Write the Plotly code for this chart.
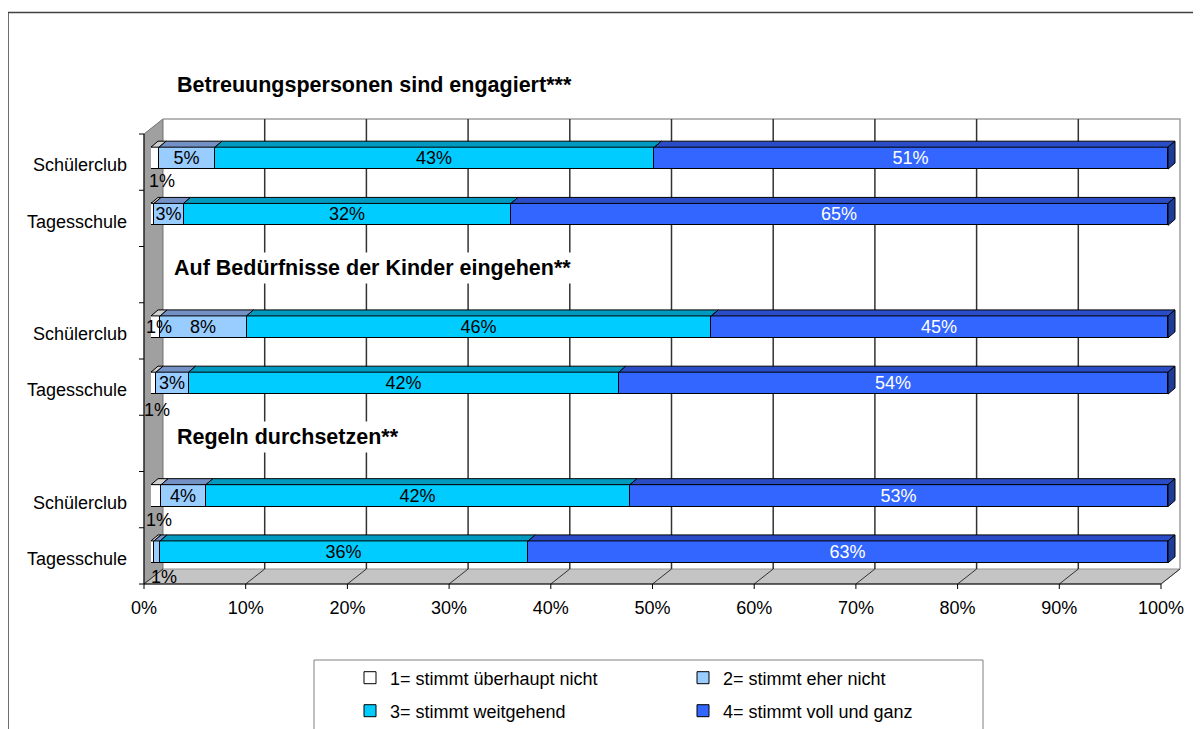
import plotly.graph_objects as go

W, H = 1201, 729
OFF = 8                    # page body margin of the viewer; figure is drawn at (OFF, OFF)
WF, HF = W - OFF, H - OFF

# ---------------- data ----------------
group_titles = ["Betreuungspersonen sind engagiert***",
                "Auf Bedürfnisse der Kinder eingehen**",
                "Regeln durchsetzen**"]
row_labels = ["Schülerclub", "Tagesschule", "Schülerclub", "Tagesschule", "Schülerclub", "Tagesschule"]
series_names = ["1= stimmt überhaupt nicht", "2= stimmt eher nicht",
                "3= stimmt weitgehend", "4= stimmt voll und ganz"]
v1 = [0.8, 0.3, 0.9, 0.5, 1.0, 0.3]
v2 = [5.5, 2.9, 8.5, 3.2, 4.4, 0.6]
v3 = [43.2, 32.2, 45.7, 42.3, 41.7, 36.2]
v4 = [50.5, 64.6, 44.9, 54.0, 52.9, 62.9]
lab1 = ["1%", "", "1%", "1%", "1%", "1%"]
lab2 = ["5%", "3%", "8%", "3%", "4%", ""]
lab3 = ["43%", "32%", "46%", "42%", "42%", "36%"]
lab4 = ["51%", "65%", "45%", "54%", "53%", "63%"]
x_tick_vals = [0, 10, 20, 30, 40, 50, 60, 70, 80, 90, 100]
x_tick_text = ["0%", "10%", "20%", "30%", "40%", "50%", "60%", "70%", "80%", "90%", "100%"]

# ---------------- style / geometry ----------------
FONT = "Liberation Sans, Arial, sans-serif"
colors = ["#FFFFFF", "#99CCFF", "#00CCFF", "#3366FF"]
top_colors = ["#D0D0D0", "#7391C4", "#0099BF", "#2A4DC7"]
side_color = "#1F3C99"
text_colors = ["black", "black", "black", "white"]

FX0, FX1 = 144, 1161      # front plane 0% / 100%
FY0, FY1 = 134, 584       # front plane top / bottom
DX, DY = 19, -15          # back plane offset
BX, BY = 7, -4            # bar plane offset
PXP = (FX1 - FX0) / 100.0 # pixels per percent
XMAX = 101.5
NSLOT = 8
SLOT = (FY1 - FY0) / NSLOT
BAR_W = 0.39
TOP_DX, TOP_DY = 7, 6     # bar top-face depth in px


def px(x):
    return (x - OFF) / WF


def py(y):
    return 1 - (y - OFF) / HF


def path(pts, close=False):
    s = "M " + " L ".join(f"{px(x):.5f},{py(y):.5f}" for x, y in pts)
    return s + (" Z" if close else "")


row_pos = []
for g in range(3):
    for m in range(2):
        row_pos.append(7 - 3 * g - m)

series = [v1, v2, v3, v4]
labels = [lab1, lab2, lab3, lab4]
# placement of the tiny first-segment labels: (x shift px, y shift px)
lab1_shift = {0: (7, -23), 2: (3, 0), 3: (3, -27), 4: (3, -24), 5: (11, -25)}

fig = go.Figure()

for s, (vals, labs) in enumerate(zip(series, labels)):
    txt = list(labs) if s > 0 else [""] * len(labs)
    fig.add_trace(go.Bar(
        x=vals, y=row_pos, orientation="h", width=BAR_W,
        name=series_names[s], legend=["legend", "legend2", "legend3", "legend4"][s],
        marker=dict(color=colors[s], line=dict(color="black", width=1)),
        text=txt, textposition="inside", insidetextanchor="middle",
        textangle=0, constraintext="none",
        textfont=dict(size=18, color=text_colors[s], family=FONT),
        hoverinfo="x+y+name",
    ))

# 3D top faces (and right end faces) built from the data
dxu = TOP_DX / PXP
dyu = TOP_DY / SLOT
cum = [0.0] * len(row_pos)
for s, vals in enumerate(series):
    xs, ys = [], []
    for r, v in enumerate(vals):
        a, b = cum[r], cum[r] + v
        yt = row_pos[r] + BAR_W / 2
        xs += [a, a + dxu, b + dxu, b, a, None]
        ys += [yt, yt + dyu, yt + dyu, yt, yt, None]
    fig.add_trace(go.Scatter(x=xs, y=ys, mode="lines", fill="toself",
                             fillcolor=top_colors[s], line=dict(color="black", width=1),
                             showlegend=False, hoverinfo="skip"))
    cum = [c + v for c, v in zip(cum, vals)]

xs, ys = [], []
for r, c in enumerate(cum):
    yb = row_pos[r] - BAR_W / 2
    yt = row_pos[r] + BAR_W / 2
    xs += [c, c, c + dxu, c + dxu, c, None]
    ys += [yb, yt, yt + dyu, yb + dyu, yb, None]
fig.add_trace(go.Scatter(x=xs, y=ys, mode="lines", fill="toself",
                         fillcolor=side_color, line=dict(color="black", width=1),
                         showlegend=False, hoverinfo="skip"))

# ---------------- decorations (3D frame) ----------------
shapes = []
shapes.append(dict(type="path", xref="paper", yref="paper",
                   path=path([(8, 729), (8, 12.5), (1201, 12.5)]),
                   line=dict(color="#404040", width=1.5), layer="below"))
shapes.append(dict(type="path", xref="paper", yref="paper",
                   path=path([(FX0, FY0), (FX0 + DX, FY0 + DY), (FX0 + DX, FY1 + DY), (FX0, FY1)], True),
                   fillcolor="#A0A0A0", line=dict(color="#707070", width=1), layer="below"))
shapes.append(dict(type="path", xref="paper", yref="paper",
                   path=path([(FX0, FY1), (FX0 + DX, FY1 + DY), (FX1 + DX, FY1 + DY), (FX1, FY1)], True),
                   fillcolor="#C4C4C4", line=dict(color="#909090", width=1), layer="below"))
shapes.append(dict(type="path", xref="paper", yref="paper",
                   path=path([(FX0 + DX, FY0 + DY), (FX1 + DX, FY0 + DY), (FX1 + DX, FY1 + DY)]),
                   line=dict(color="#A0A0A0", width=1.5), layer="below"))
for tv in x_tick_vals:
    xf = FX0 + tv * PXP
    if 0 < tv < 100:
        shapes.append(dict(type="line", xref="paper", yref="paper",
                           x0=px(xf + DX), x1=px(xf + DX), y0=py(FY0 + DY), y1=py(FY1 + DY),
                           line=dict(color="#333333", width=1.5), layer="below"))
    shapes.append(dict(type="line", xref="paper", yref="paper",
                       x0=px(xf), x1=px(xf + DX), y0=py(FY1), y1=py(FY1 + DY),
                       line=dict(color="#333333", width=1), layer="below"))
    shapes.append(dict(type="line", xref="paper", yref="paper",
                       x0=px(xf), x1=px(xf), y0=py(FY1), y1=py(FY1 + 5),
                       line=dict(color="black", width=1), layer="below"))
shapes.append(dict(type="path", xref="paper", yref="paper",
                   path=path([(FX0, FY0), (FX0, FY1), (FX1, FY1)]),
                   line=dict(color="black", width=1), layer="below"))
for j in range(NSLOT + 1):
    yy = FY0 + j * SLOT
    shapes.append(dict(type="line", xref="paper", yref="paper",
                       x0=px(FX0 - 5), x1=px(FX0), y0=py(yy), y1=py(yy),
                       line=dict(color="black", width=1), layer="below"))
shapes.append(dict(type="path", xref="paper", yref="paper",
                   path=path([(314, 729), (314, 660), (983, 660), (983, 729)]),
                   line=dict(color="#808080", width=1), layer="below"))

# ---------------- annotations ----------------
annotations = []
title_y = [85, 268, 437]
title_x = [173, 170, 173]
for g, t in enumerate(group_titles):
    annotations.append(dict(text=f"<b>{t}</b>", xref="paper", yref="paper",
                            x=px(title_x[g]), y=py(title_y[g]), xanchor="left", yanchor="middle",
                            showarrow=False, font=dict(size=21.5, color="black", family=FONT),
                            bgcolor="white" if g > 0 else None, borderpad=3))
for r, (sx, sy) in lab1_shift.items():
    if lab1[r]:
        annotations.append(dict(text=lab1[r], x=v1[r] / 2, y=row_pos[r], xref="x", yref="y",
                                xshift=sx, yshift=sy, showarrow=False,
                                font=dict(size=18, color="black", family=FONT)))

leg_common = dict(orientation="h", bgcolor="rgba(0,0,0,0)", borderwidth=0,
                  font=dict(size=18, color="black", family=FONT),
                  xanchor="left", yanchor="middle", itemclick=False, itemdoubleclick=False)
col_x = [350, 683]
row_y = [678, 711]

fig.update_layout(
    width=WF, height=HF, autosize=False,
    margin=dict(l=0, r=0, t=0, b=0, autoexpand=False),
    paper_bgcolor="white", plot_bgcolor="rgba(0,0,0,0)",
    barmode="stack", bargap=0,
    font=dict(family=FONT, size=18, color="black"),
    xaxis=dict(domain=[px(FX0 + BX), px(FX0 + BX + XMAX * PXP)], range=[0, XMAX],
               tickvals=x_tick_vals, ticktext=x_tick_text, showgrid=False, zeroline=False,
               showline=False, ticks="", ticklabelshift=-BX, ticklabelstandoff=15,
               automargin=False, tickfont=dict(size=18, family=FONT), fixedrange=True),
    yaxis=dict(domain=[py(FY1 + BY), py(FY0 + BY)], range=[-0.5, 7.5],
               tickvals=row_pos, ticktext=row_labels, showgrid=False, zeroline=False,
               showline=False, ticks="", ticklabelshift=7, ticklabelstandoff=23,
               automargin=False, tickfont=dict(size=18, family=FONT), fixedrange=True),
    shapes=shapes,
    annotations=annotations,
    legend=dict(x=px(col_x[0]), y=py(row_y[0]), **leg_common),
    legend2=dict(x=px(col_x[1]), y=py(row_y[0]), **leg_common),
    legend3=dict(x=px(col_x[0]), y=py(row_y[1]), **leg_common),
    legend4=dict(x=px(col_x[1]), y=py(row_y[1]), **leg_common),
    showlegend=True,
)

fig.write_html("out.html")
